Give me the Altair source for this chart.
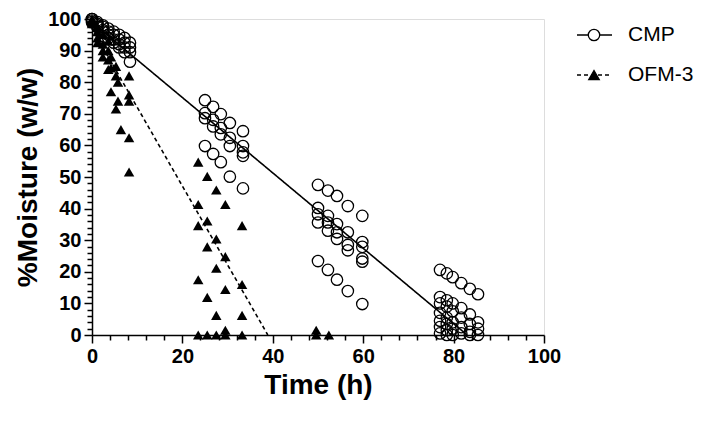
import altair as alt
import pandas as pd

# ---------------- data ----------------
series_names = ["CMP", "OFM-3"]

# CMP: sampling times (h) and the %moisture values seen at each time
cmp_times = [0, 1.2, 2.4, 3.6, 4.8, 6.0, 7.2, 8.4,
             25.0, 26.8, 28.5, 30.5, 33.4,
             50.0, 52.2, 54.2, 56.6, 59.8,
             77.0, 78.5, 79.8, 81.7, 83.6, 85.4]
cmp_values = [
    [100, 100, 99.5, 99],
    [99, 98.5, 98, 97.5],
    [98, 97.5, 96.5, 96],
    [97, 96, 95, 94],
    [96, 95, 93.5, 92.5],
    [95, 93.5, 92, 91],
    [94, 92.5, 91, 89.5],
    [92.5, 91, 89.5, 86.5],
    [74.3, 70.2, 68.6, 59.8],
    [72.2, 68.1, 66, 57.3],
    [69.9, 65.5, 63.5, 54.7],
    [67.1, 62.4, 59.8, 50.1],
    [64.5, 59.8, 57.8, 56.7, 46.4],
    [47.5, 40.2, 38.2, 35.6, 23.4],
    [45.7, 37.7, 35.6, 33, 20.6],
    [44, 35.1, 32.5, 30.4, 17.5],
    [40.8, 32.5, 28.5, 26.8, 13.9],
    [37.7, 29.4, 27.9, 24.2, 23.2, 9.8],
    [20.6, 12, 10, 7, 4.5, 2.5, 0.5],
    [19.5, 11, 9, 5.5, 3.5, 1.5, 0],
    [18.3, 10, 7.5, 4, 2, 0],
    [16.4, 8.5, 5.5, 2.5, 0.5],
    [14.6, 6.5, 3.5, 1, 0],
    [12.9, 4, 2, 0],
]

# OFM-3: sampling times (h) and the %moisture values seen at each time
ofm_times = [0, 1.2, 2.4, 3.6, 4.2, 5.3, 5.75, 6.4, 8.2,
             23.5, 25.5, 27.5, 29.5, 33.2,
             49.6, 52.4]
ofm_values = [
    [100, 99.5, 99, 98.5],
    [97.5, 96, 94, 92.5],
    [95, 92, 90, 88],
    [93, 90, 87, 84],
    [88, 84.5, 77],
    [85, 82, 71.5],
    [80, 74],
    [65],
    [82, 76, 74, 62.4, 51.6],
    [54.7, 41.3, 34.6, 17.5, 0],
    [50.2, 36.1, 27.9, 11.9, 0],
    [45.9, 30.4, 21.1, 6.2, 0],
    [41.3, 24.8, 14.4, 1.5, 0],
    [34.6, 16, 6.2, 0],
    [1.5, 0],
    [0],
]

# linear fits (end points)
cmp_fit_time = [0, 83]
cmp_fit_moisture = [99, 0]
ofm_fit_time = [0, 38.9]
ofm_fit_moisture = [97, 0]

# axis ticks (major ticks carry labels, minor ticks are shorter)
x_major_ticks = [0, 20, 40, 60, 80, 100]
x_minor_ticks = [4, 8, 12, 16, 24, 28, 32, 36, 44, 48, 52, 56, 64, 68, 72, 76, 84, 88, 92, 96]
y_major_ticks = [0, 10, 20, 30, 40, 50, 60, 70, 80, 90, 100]
y_minor_ticks = [2, 4, 6, 8, 12, 14, 16, 18, 22, 24, 26, 28, 32, 34, 36, 38, 42, 44, 46, 48,
                 52, 54, 56, 58, 62, 64, 66, 68, 72, 74, 76, 78, 82, 84, 86, 88, 92, 94, 96, 98]

# ---------------- tables ----------------
def flatten(times, values, name):
    rows = []
    for t, vals in zip(times, values):
        for v in vals:
            rows.append({"time": t, "moisture": v, "series": name})
    return rows

cmp_df = pd.DataFrame(flatten(cmp_times, cmp_values, "CMP"))
ofm_df = pd.DataFrame(flatten(ofm_times, ofm_values, "OFM-3"))
fit_df = pd.DataFrame({
    "time": cmp_fit_time + ofm_fit_time,
    "moisture": cmp_fit_moisture + ofm_fit_moisture,
    "series": ["CMP"] * 2 + ["OFM-3"] * 2,
})

# ---------------- chart ----------------
W, H = 452, 316
FONT = "Liberation Sans"

x_scale = alt.Scale(domain=[0, 100], nice=False, zero=False)
y_scale = alt.Scale(domain=[0, 100], nice=False, zero=False)

common_axis = dict(tickWidth=1.5, tickColor="black",
                   domainWidth=1.5, domainColor="black", grid=False,
                   labelFont=FONT, labelFontSize=20, labelFontWeight="bold", labelColor="black",
                   labelPadding=3, labelFlush=False, labelOverlap=False,
                   titleFont=FONT, titleFontSize=28, titleFontWeight="bold", titleColor="black")

x_axis = alt.Axis(
    values=sorted(x_major_ticks + x_minor_ticks),
    tickSize={"condition": {"test": "datum.value % 20 === 0", "value": 8}, "value": 5},
    labelExpr="datum.value % 20 === 0 ? datum.label : ''",
    title="Time (h)", titlePadding=5, **common_axis)
y_axis = alt.Axis(
    values=sorted(y_major_ticks + y_minor_ticks),
    tickSize={"condition": {"test": "datum.value % 10 === 0", "value": 8}, "value": 5},
    labelExpr="datum.value % 10 === 0 ? datum.label : ''",
    title="%Moisture (w/w)", titlePadding=5, **common_axis)


def X():
    return alt.X("time:Q", scale=x_scale, axis=x_axis)


def Y():
    return alt.Y("moisture:Q", scale=y_scale, axis=y_axis)


lines = alt.Chart(fit_df).mark_line(color="black", strokeWidth=1.6).encode(
    x=X(), y=Y(), detail="series:N",
    strokeDash=alt.StrokeDash("series:N",
                              scale=alt.Scale(domain=series_names, range=[[1, 0], [4, 3]]),
                              legend=None),
)

cmp_pts = alt.Chart(cmp_df).mark_point(shape="circle", size=130, filled=False,
                                        color="black", strokeWidth=1.3, opacity=1).encode(
    x=X(), y=Y())

ofm_pts = alt.Chart(ofm_df).mark_point(shape="triangle-up", size=110, filled=True,
                                        color="black", opacity=1).encode(
    x=X(), y=Y())

# ---- legend (drawn by hand, top right) ----
leg_df = pd.DataFrame({"series": series_names})
LX0, LX1, LXC, LXT = 485, 520, 502, 536
LY = {"CMP": 16, "OFM-3": 56}

leg_layers = []
for name, dash, shape, fill in [("CMP", [1, 0], "circle", "white"),
                                ("OFM-3", [4, 3], "triangle-up", "black")]:
    base = alt.Chart(leg_df).transform_filter(alt.datum.series == name)
    leg_layers.append(base.mark_rule(color="black", strokeWidth=1.6, strokeDash=dash).encode(
        x=alt.value(LX0), x2=alt.value(LX1), y=alt.value(LY[name])))
    leg_layers.append(base.mark_point(shape=shape, size=130 if shape == "circle" else 110,
                                      filled=True, fill=fill, stroke="black", strokeWidth=1.3,
                                      opacity=1).encode(
        x=alt.value(LXC), y=alt.value(LY[name])))
    leg_layers.append(base.mark_text(align="left", baseline="middle", font=FONT, fontSize=21,
                                     color="black").encode(
        x=alt.value(LXT), y=alt.value(LY[name]), text="series:N"))

chart = alt.layer(lines, cmp_pts, ofm_pts, *leg_layers).resolve_scale(
    strokeDash="independent"
).properties(
    width=W, height=H,
    autosize=alt.AutoSizeParams(type="none"),
    padding={"left": 84, "top": 11, "right": 162, "bottom": 78},
).configure_view(stroke=None).configure(background="white")

chart.save("out.html", embed_options={"renderer": "svg", "actions": False})
